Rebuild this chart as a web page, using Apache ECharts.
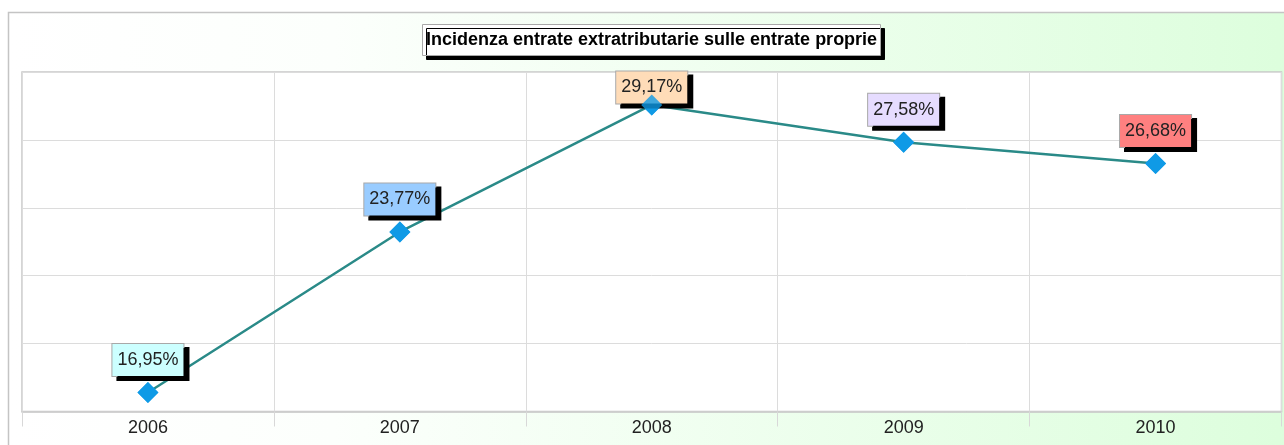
<!DOCTYPE html>
<html>
<head>
<meta charset="utf-8">
<script src="https://cdn.jsdelivr.net/npm/echarts@6/dist/echarts.min.js"></script>
<style>html,body{margin:0;padding:0;background:#fff;}#c{width:1284px;height:445px;}</style>
</head>
<body>
<div id="c"></div>
<script>
var titleText = 'Incidenza entrate extratributarie sulle entrate proprie';
var years = ['2006', '2007', '2008', '2009', '2010'];
var values = [16.95, 23.77, 29.17, 27.58, 26.68];
var labelColors = ['#ccffff', '#99ccff', '#ffdcb8', '#e6dcff', '#ff8080'];

var FONT = '"Liberation Sans", Arial, sans-serif';
var GRID_TOP = 72, GRID_BOTTOM = 33.5, H = 445;
var Y_MIN = 16.14, Y_MAX = 30.57;
var LABEL_H = 32, LABEL_GAP = 16;

var chart = echarts.init(document.getElementById('c'));

var plotH = H - GRID_TOP - GRID_BOTTOM;
var seriesData = values.map(function (v, i) {
  // keep labels inside the plot area (as in the original chart)
  var py = GRID_TOP + (Y_MAX - v) * plotH / (Y_MAX - Y_MIN);
  var top = py - LABEL_GAP - LABEL_H;
  var dy = top < GRID_TOP ? Math.min(GRID_TOP - top, 15) : 0;
  return {
    value: v,
    label: { backgroundColor: labelColors[i], offset: [0, dy] }
  };
});

chart.setOption({
  animation: false,
  graphic: [{
    type: 'rect',
    z: -100,
    silent: true,
    shape: { x: 8.5, y: 12.5, width: 1300, height: 500 },
    style: {
      fill: new echarts.graphic.LinearGradient(0, 0, 1, 0, [
        { offset: 0, color: '#ffffff' },
        { offset: 0.25, color: '#fcfffc' },
        { offset: 1, color: '#dcfedc' }
      ]),
      stroke: '#c4c4c4',
      lineWidth: 1.5
    }
  }],
  title: {
    text: titleText,
    left: 422,
    top: 24,
    padding: [6, 4, 6, 4],
    backgroundColor: '#ffffff',
    borderColor: '#a8a8a8',
    borderWidth: 1,
    shadowColor: '#000000',
    shadowBlur: 0,
    shadowOffsetX: 4,
    shadowOffsetY: 4,
    textStyle: { fontFamily: FONT, fontSize: 18, fontWeight: 'bold', color: '#000', lineHeight: 20 }
  },
  grid: {
    left: 22, top: GRID_TOP, right: 2.5, bottom: GRID_BOTTOM,
    show: true, backgroundColor: '#ffffff', borderColor: '#c8c8c8', borderWidth: 1.5
  },
  xAxis: {
    type: 'category',
    data: years,
    boundaryGap: true,
    axisLine: { show: true, lineStyle: { color: '#c8c8c8', width: 1.5 } },
    axisTick: { show: true, length: 15, lineStyle: { color: '#d8d8d8' } },
    axisLabel: { fontFamily: FONT, fontSize: 18, color: '#222', margin: 8 },
    splitLine: { show: true, lineStyle: { color: '#dcdcdc', width: 1 } }
  },
  yAxis: [{
    type: 'value',
    min: Y_MIN, max: Y_MAX,
    axisLine: { show: false }, axisTick: { show: false }, axisLabel: { show: false },
    splitLine: { show: false }
  }, {
    type: 'value',
    min: 0, max: 5, interval: 1,
    position: 'left',
    axisLine: { show: false }, axisTick: { show: false }, axisLabel: { show: false },
    splitLine: { show: true, lineStyle: { color: '#dcdcdc', width: 1 } }
  }],
  series: [{
    type: 'line',
    yAxisIndex: 0,
    data: seriesData,
    symbol: 'diamond',
    symbolSize: 21,
    itemStyle: { color: '#0f9ae6' },
    lineStyle: { color: '#2a8a88', width: 2.5 },
    z: 2,
    label: {
      show: true,
      position: 'top',
      distance: 6,
      formatter: function (p) { return p.value.toFixed(2).replace('.', ',') + '%'; },
      fontFamily: FONT, fontSize: 18, color: '#222', lineHeight: 20,
      padding: [6, 5, 6, 5],
      borderColor: '#a8a8a8', borderWidth: 1,
      shadowColor: '#000000', shadowBlur: 0, shadowOffsetX: 5, shadowOffsetY: 4
    }
  }, {
    type: 'scatter',
    yAxisIndex: 0,
    data: values,
    symbol: 'diamond',
    symbolSize: 21,
    itemStyle: { color: '#0f9ae6' },
    z: 10,
    silent: true
  }]
});
</script>
</body>
</html>
